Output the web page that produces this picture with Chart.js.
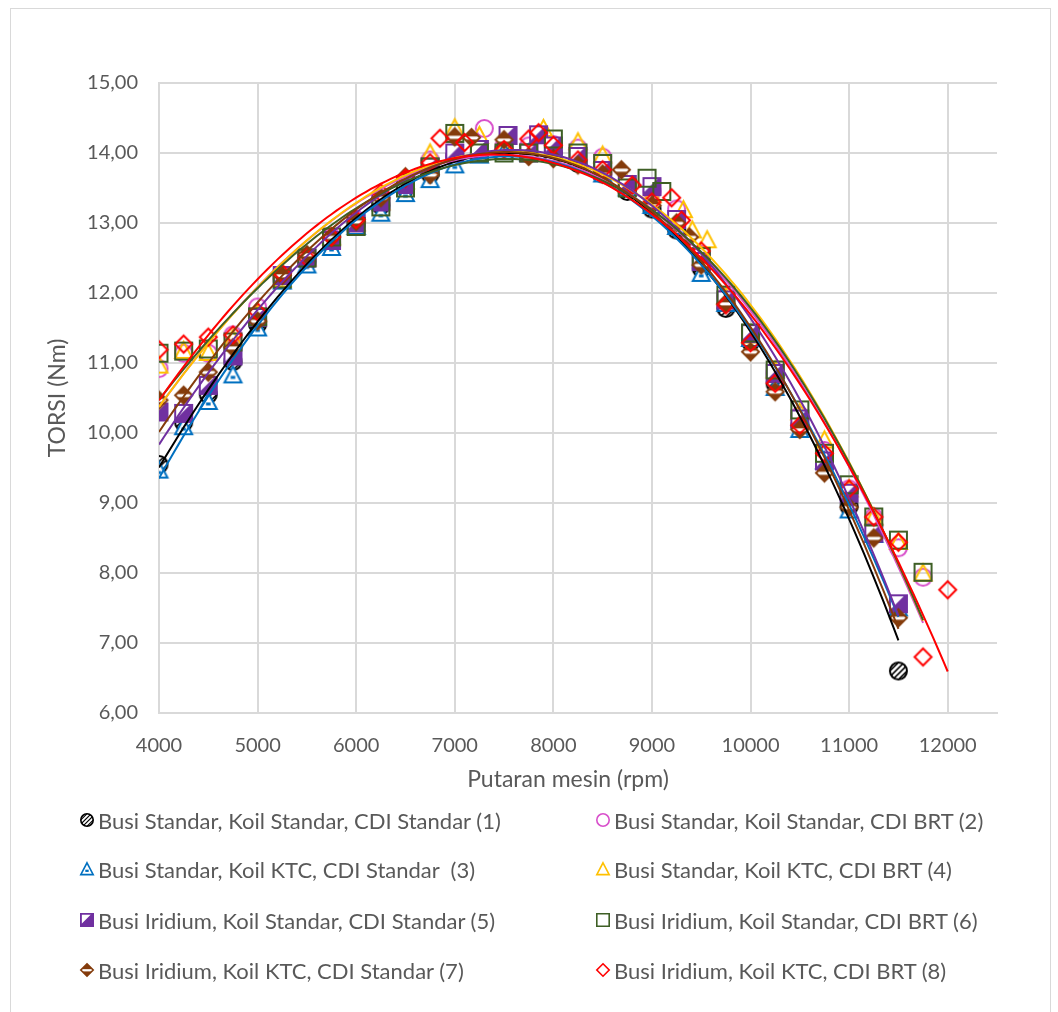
<!DOCTYPE html>
<html>
<head>
<meta charset="utf-8">
<title>Torsi vs Putaran mesin</title>
<script src="https://cdn.jsdelivr.net/npm/chart.js@4.4.1/dist/chart.umd.min.js"></script>
<style>
  html, body { margin: 0; padding: 0; background: #ffffff; }
  #wrap { position: relative; width: 1058px; height: 1012px; overflow: hidden; background: #ffffff; }
  #frame { position: absolute; left: 10px; top: 8px; width: 1041px; height: 1020px; border: 1px solid #d9d9d9; box-sizing: border-box; }
  #c { position: absolute; left: 0; top: 0; }
  #legend { position: absolute; left: 0; top: 0; width: 1058px; height: 1012px; pointer-events: none;
            font-family: Lato, "Open Sans", "Noto Sans", sans-serif; font-size: 22px; color: #595959; }
  .item { position: absolute; height: 26px; display: flex; align-items: center; white-space: pre; }
  .item canvas { margin-right: 2px; }
</style>
</head>
<body>
<div id="wrap">
  <div id="frame"></div>
  <canvas id="c" width="1058" height="1012"></canvas>
  <div id="legend"></div>
</div>
<script>
// Torque (Nm) measured against engine speed (rpm) for eight ignition setups
const seriesNames = [
  'Busi Standar, Koil Standar, CDI Standar (1)',
  'Busi Standar, Koil Standar, CDI BRT (2)',
  'Busi Standar, Koil KTC, CDI Standar  (3)',
  'Busi Standar, Koil KTC, CDI BRT (4)',
  'Busi Iridium, Koil Standar, CDI Standar (5)',
  'Busi Iridium, Koil Standar, CDI BRT (6)',
  'Busi Iridium, Koil KTC, CDI Standar (7)',
  'Busi Iridium, Koil KTC, CDI BRT (8)'
];

const rpm1 = [4000,4250,4500,4750,5000,5250,5500,5750,6000,6250,6500,6750,7000,7250,7500,7750,8000,8250,8500,8750,9000,9250,9500,9750,10000,10250,10500,10750,11000,11250,11500];
const torsi1 = [9.55,10.15,10.55,11.02,11.55,12.2,12.45,12.7,12.98,13.25,13.5,13.7,13.95,14.0,14.05,14.0,14.0,13.85,13.7,13.45,13.2,12.9,12.35,11.78,11.3,10.7,10.1,9.55,8.95,8.55,6.6];

const rpm2 = [4000,4250,4500,4750,5000,5250,5500,5750,6000,6250,6500,6750,7000,7300,7500,7750,8000,8250,8500,8750,9000,9250,9500,9750,10000,10250,10500,10750,11000,11250,11500,11750];
const torsi2 = [10.92,11.14,11.14,11.4,11.8,12.25,12.5,12.8,13.05,13.35,13.58,13.9,13.94,14.35,14.1,14.1,14.12,14.07,13.94,13.55,13.45,13.2,12.55,11.95,11.4,10.85,10.25,9.75,9.2,8.8,8.36,7.94];

const rpm3 = [4000,4250,4500,4750,5000,5250,5500,5750,6000,6250,6500,6750,7000,7250,7500,7750,8000,8250,8500,8750,9000,9250,9500,9750,10000,10250,10500,10750,11000,11250,11500];
const torsi3 = [9.47,10.09,10.45,10.83,11.5,12.17,12.4,12.65,12.95,13.14,13.42,13.62,13.83,13.97,14.02,14.0,14.05,13.9,13.7,13.5,13.25,12.95,12.28,11.85,11.35,10.65,10.05,9.6,8.9,8.55,7.5];

const rpm4 = [4000,4250,4500,4750,5000,5250,5500,5750,6000,6250,6500,6750,7000,7250,7500,7900,8250,8500,8750,9000,9320,9410,9560,9750,10000,10250,10500,10750,11000,11250,11500,11750];
const torsi4 = [10.97,11.18,11.15,11.35,11.7,12.2,12.5,12.8,13.0,13.3,13.6,14.0,14.36,14.25,14.1,14.35,14.16,13.97,13.55,13.4,13.19,12.9,12.76,11.95,11.4,10.9,10.3,9.9,9.2,8.8,8.45,8.0];

const rpm5 = [4000,4250,4500,4750,5000,5250,5500,5750,6000,6250,6500,6750,7000,7250,7540,7750,7850,8000,8250,8500,8750,9000,9250,9500,9750,10000,10250,10500,10750,11000,11250,11500];
const torsi5 = [10.3,10.28,10.68,11.1,11.65,12.25,12.5,12.75,13.0,13.3,13.55,13.8,14.0,14.05,14.25,14.0,14.26,14.1,13.95,13.75,13.55,13.52,13.05,12.45,11.9,11.42,10.85,10.2,9.6,9.14,8.57,7.56];

const rpm6 = [4000,4250,4500,4750,5000,5250,5500,5750,6000,6250,6500,6750,7000,7250,7500,7750,8000,8250,8500,8750,8950,9100,9500,9750,10000,10250,10500,10750,11000,11250,11500,11750];
const torsi6 = [11.14,11.17,11.2,11.3,11.66,12.2,12.5,12.8,12.95,13.23,13.5,13.8,14.28,14.0,14.0,14.0,14.2,14.0,13.85,13.5,13.64,13.45,12.52,11.97,11.43,10.9,10.33,9.71,9.26,8.8,8.47,8.01];

const rpm7 = [4000,4250,4500,4750,5000,5250,5500,5750,6000,6250,6500,6750,7000,7170,7500,7750,8000,8250,8500,8690,9000,9250,9380,9500,9750,10000,10250,10500,10750,11000,11250,11500];
const torsi7 = [10.47,10.54,10.87,11.22,11.6,12.25,12.55,12.8,13.02,13.36,13.66,13.69,14.23,14.22,14.19,13.95,13.92,13.83,13.7,13.76,13.25,13.0,12.8,12.4,11.85,11.16,10.59,10.05,9.43,8.94,8.5,7.36];

const rpm8 = [4000,4250,4500,4750,5000,5250,5500,5750,6000,6250,6500,6750,6850,7100,7500,7750,7850,8000,8250,8500,8800,9000,9200,9300,9500,9750,10000,10250,10500,10750,11000,11250,11500,11750,12000];
const torsi8 = [11.19,11.27,11.37,11.4,11.73,12.28,12.5,12.8,13.05,13.43,13.64,13.86,14.21,14.15,14.05,14.2,14.29,14.11,13.9,13.76,13.54,13.3,13.36,13.04,12.6,11.83,11.29,10.71,10.11,9.71,9.2,8.8,8.44,6.8,7.76];

const rpmSets = [rpm1, rpm2, rpm3, rpm4, rpm5, rpm6, rpm7, rpm8];
const torsiSets = [torsi1, torsi2, torsi3, torsi4, torsi5, torsi6, torsi7, torsi8];

const colors = ['#000000', '#D84FCB', '#0070C0', '#FFC000', '#7030A0', '#3E5F25', '#843C0C', '#FF0000'];
const markerKinds = ['circleHatch', 'circle', 'triangleDash', 'triangle', 'squareHalf', 'square', 'diamondBand', 'diamond'];

const xTicks = [4000, 5000, 6000, 7000, 8000, 9000, 10000, 11000, 12000];
const xTitle = 'Putaran mesin (rpm)';
const yTitle = 'TORSI (Nm)';

const FONT = 'Lato, "Open Sans", "Noto Sans", sans-serif';
const TEXT = '#595959';
const GRID = '#d9d9d9';

// Marker glyphs drawn once onto small canvases and used as point styles
function makeMarker(kind, color, s) {
  const pad = 2;
  const c = document.createElement('canvas');
  c.width = c.height = s + pad * 2;
  const g = c.getContext('2d');
  const m = c.width / 2, r = s / 2;
  const lw = s >= 16 ? 2 : 1.6;
  g.lineWidth = lw;
  g.strokeStyle = color;
  g.fillStyle = color;
  g.lineJoin = 'miter';

  const shape = () => {
    g.beginPath();
    if (kind.startsWith('circle')) {
      g.arc(m, m, r - lw / 2, 0, Math.PI * 2);
    } else if (kind.startsWith('square')) {
      g.rect(m - r + lw / 2, m - r + lw / 2, s - lw, s - lw);
    } else if (kind.startsWith('triangle')) {
      g.moveTo(m, m - r + lw / 2);
      g.lineTo(m + r - lw / 2, m + r * 0.8);
      g.lineTo(m - r + lw / 2, m + r * 0.8);
      g.closePath();
    } else {
      g.moveTo(m, m - r + lw / 2);
      g.lineTo(m + r - lw / 2, m);
      g.lineTo(m, m + r - lw / 2);
      g.lineTo(m - r + lw / 2, m);
      g.closePath();
    }
  };

  if (kind === 'circleHatch') {
    shape(); g.fill();
    g.save(); shape(); g.clip();
    g.strokeStyle = '#ffffff'; g.lineWidth = s * 0.13;
    for (let k = -2; k <= 2; k++) {
      g.beginPath();
      g.moveTo(m - r + k * s * 0.3, m + r);
      g.lineTo(m + r + k * s * 0.3, m - r);
      g.stroke();
    }
    g.restore();
    g.lineWidth = lw; g.strokeStyle = color; shape(); g.stroke();
  } else if (kind === 'triangleDash') {
    g.fillStyle = '#ffffff'; shape(); g.fill();
    g.fillStyle = color;
    g.fillRect(m - s * 0.12, m + r * 0.1, s * 0.24, s * 0.16);
    shape(); g.stroke();
  } else if (kind === 'squareHalf') {
    shape(); g.fill();
    g.fillStyle = '#ffffff';
    g.beginPath();
    g.moveTo(m - r + lw, m - r + lw);
    g.lineTo(m + r * 0.55, m - r + lw);
    g.lineTo(m - r + lw, m + r * 0.55);
    g.closePath(); g.fill();
    shape(); g.stroke();
  } else if (kind === 'diamondBand') {
    shape(); g.fill();
    g.save(); shape(); g.clip();
    g.fillStyle = '#ffffff';
    g.fillRect(m - r, m - s * 0.06, s, s * 0.16);
    g.restore();
    shape(); g.stroke();
  } else {
    shape(); g.stroke();
  }
  return c;
}

// Least-squares polynomial through a series, used for the trend curves
function polyFit(xs, ys, order) {
  const n = order + 1;
  const u = xs.map(x => (x - 8000) / 1000);
  const A = [];
  for (let i = 0; i < n; i++) {
    A.push(new Array(n + 1).fill(0));
  }
  u.forEach((v, k) => {
    for (let i = 0; i < n; i++) {
      for (let j = 0; j < n; j++) A[i][j] += Math.pow(v, i + j);
      A[i][n] += Math.pow(v, i) * ys[k];
    }
  });
  for (let i = 0; i < n; i++) {
    let p = i;
    for (let j = i + 1; j < n; j++) if (Math.abs(A[j][i]) > Math.abs(A[p][i])) p = j;
    [A[i], A[p]] = [A[p], A[i]];
    for (let j = i + 1; j < n; j++) {
      const f = A[j][i] / A[i][i];
      for (let k = i; k <= n; k++) A[j][k] -= f * A[i][k];
    }
  }
  const b = new Array(n).fill(0);
  for (let i = n - 1; i >= 0; i--) {
    let sum = A[i][n];
    for (let k = i + 1; k < n; k++) sum -= A[i][k] * b[k];
    b[i] = sum / A[i][i];
  }
  return x => {
    const v = (x - 8000) / 1000;
    let y = 0;
    for (let i = n - 1; i >= 0; i--) y = y * v + b[i];
    return y;
  };
}

const TREND_ORDER = 3;

const datasets = [];
seriesNames.forEach((name, i) => {
  const xs = rpmSets[i], ys = torsiSets[i];
  datasets.push({
    type: 'scatter',
    label: name,
    data: xs.map((x, k) => ({ x: x, y: ys[k] })),
    pointStyle: makeMarker(markerKinds[i], colors[i], 19),
    pointRadius: 10,
    pointHoverRadius: 10,
    showLine: false,
    order: 20 - i
  });
  const f = polyFit(xs, ys, TREND_ORDER);
  const x0 = xs[0], x1 = xs[xs.length - 1];
  const curve = [];
  for (let x = x0; x <= x1; x += 50) curve.push({ x: x, y: f(x) });
  if (curve[curve.length - 1].x !== x1) curve.push({ x: x1, y: f(x1) });
  datasets.push({
    type: 'line',
    label: name + ' trend',
    data: curve,
    borderColor: colors[i],
    borderWidth: 2,
    pointRadius: 0,
    fill: false,
    tension: 0,
    order: 9 - i
  });
});

// Horizontal axis title, set a little left of the plot centre as in the chart area layout
const xTitlePlugin = {
  id: 'xTitle',
  afterDraw(chart) {
    const { ctx, chartArea } = chart;
    ctx.save();
    ctx.font = '23px ' + FONT;
    ctx.fillStyle = TEXT;
    ctx.textAlign = 'center';
    ctx.textBaseline = 'middle';
    ctx.fillText(xTitle, (chartArea.left + chartArea.right) / 2 - 10, chartArea.bottom + 67);
    ctx.restore();
  }
};

new Chart(document.getElementById('c'), {
  type: 'scatter',
  data: { datasets: datasets },
  plugins: [xTitlePlugin],
  options: {
    responsive: false,
    animation: false,
    devicePixelRatio: 1,
    layout: { padding: { left: 40, top: 83, right: 61, bottom: 215 } },
    plugins: { legend: { display: false }, tooltip: { enabled: false } },
    scales: {
      x: {
        type: 'linear',
        min: 4000,
        max: 12500,
        afterBuildTicks: s => { s.ticks = xTicks.map(v => ({ value: v })); },
        afterFit: s => { s.height = 84; },
        ticks: { color: TEXT, font: { family: FONT, size: 20 }, padding: 21, maxRotation: 0, autoSkip: false,
                 callback: v => String(v) },
        grid: { color: GRID, lineWidth: 2, drawTicks: false },
        border: { color: GRID, width: 2 },
        title: { display: false }
      },
      y: {
        min: 6,
        max: 15,
        afterFit: s => { s.width = 119; },
        ticks: { stepSize: 1, color: TEXT, font: { family: FONT, size: 20 }, padding: 21,
                 callback: v => Number(v).toFixed(2).replace('.', ',') },
        grid: { color: GRID, lineWidth: 2, drawTicks: false },
        border: { color: GRID, width: 2 },
        title: { display: true, text: yTitle, color: TEXT, font: { family: FONT, size: 23 },
                 padding: { top: 4, bottom: 4 } }
      }
    }
  }
});

// Two-column legend under the plot
const legend = document.getElementById('legend');
const colX = [78, 594];
const rowY = [820, 869, 920, 970];
seriesNames.forEach((name, i) => {
  const item = document.createElement('div');
  item.className = 'item';
  item.style.left = colX[i % 2] + 'px';
  item.style.top = (rowY[Math.floor(i / 2)] - 13) + 'px';
  const icon = makeMarker(markerKinds[i], colors[i], 14);
  item.appendChild(icon);
  const span = document.createElement('span');
  span.textContent = name;
  item.appendChild(span);
  legend.appendChild(item);
});
</script>
</body>
</html>
